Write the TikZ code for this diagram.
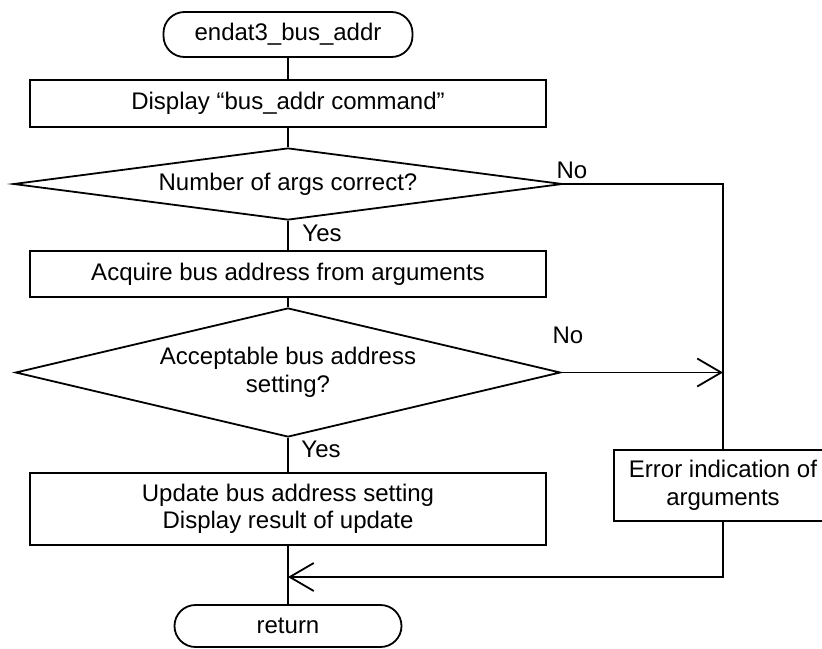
\documentclass[tikz,border=0pt]{standalone}
\usepackage{fontspec}
\setmainfont{Liberation Sans}
\usetikzlibrary{shapes.geometric,arrows.meta}

\begin{document}
\begin{tikzpicture}[
  x=1pt, y=-1pt,
  every node/.style={font=\fontsize{24}{27.5}\selectfont, inner sep=0pt},
  flow/.style={line width=1.8pt},
  openhead/.style={-{Straight Barb[length=24pt,width=28pt,line width=1.8pt]}},
  terminal/.style={draw, flow, rectangle, rounded corners=21pt, align=center},
  procbox/.style={draw, flow, rectangle, align=center},
  decision/.style={draw, flow, diamond, align=center},
  lbl/.style={inner sep=0pt}
]
% canvas
\useasboundingbox (0,0) rectangle (822,648);
\fill[white] (0,0) rectangle (822,648);
\clip (0,0) rectangle (822,648);

% main column
\node[terminal, minimum width=249pt, minimum height=45pt] (start) at (288,34.5) {endat3\_bus\_addr};
\node[procbox, minimum width=516pt, minimum height=47pt] (disp) at (288,103.5) {Display “bus\_addr command”};
\node[decision, aspect=7.6, minimum width=549pt, minimum height=72pt] (q1) at (288,184) {Number of args correct?};
\node[procbox, minimum width=516pt, minimum height=46pt] (acq) at (288,274) {Acquire bus address from arguments};
\node[decision, aspect=4.25, minimum width=545pt, minimum height=129pt] (q2) at (288,372.5) {Acceptable bus address\\setting?};
\node[procbox, minimum width=516pt, minimum height=72pt] (upd) at (288,509) {Update bus address setting\\Display result of update};
\node[terminal, minimum width=227pt, minimum height=42pt] (ret) at (288,626) {return};

% error branch
\node[procbox, minimum width=218pt, minimum height=71pt] (err) at (723,485.5) {Error indication of\\arguments};
\coordinate (merge) at (288,577);

% connectors
\draw[flow] (start) -- (disp);
\draw[flow] (disp) -- (q1);
\draw[flow] (q1) -- (acq);
\draw[flow] (acq) -- (q2);
\draw[flow] (q2) -- (upd);
\draw[flow] (upd) -- (ret);
\draw[flow] (q1.east) -| (err.north);
\draw[flow, openhead] (q2.east) -- (q2.east -| err.north);
\draw[flow, openhead] (err.south) |- (merge);

% branch labels
\node[lbl] (y1) at (322,233) {Yes};
\node[lbl] (n1) at (572,170) {No};
\node[lbl] (y2) at (321,449) {Yes};
\node[lbl] (n2) at (568,335) {No};
\end{tikzpicture}
\end{document}
